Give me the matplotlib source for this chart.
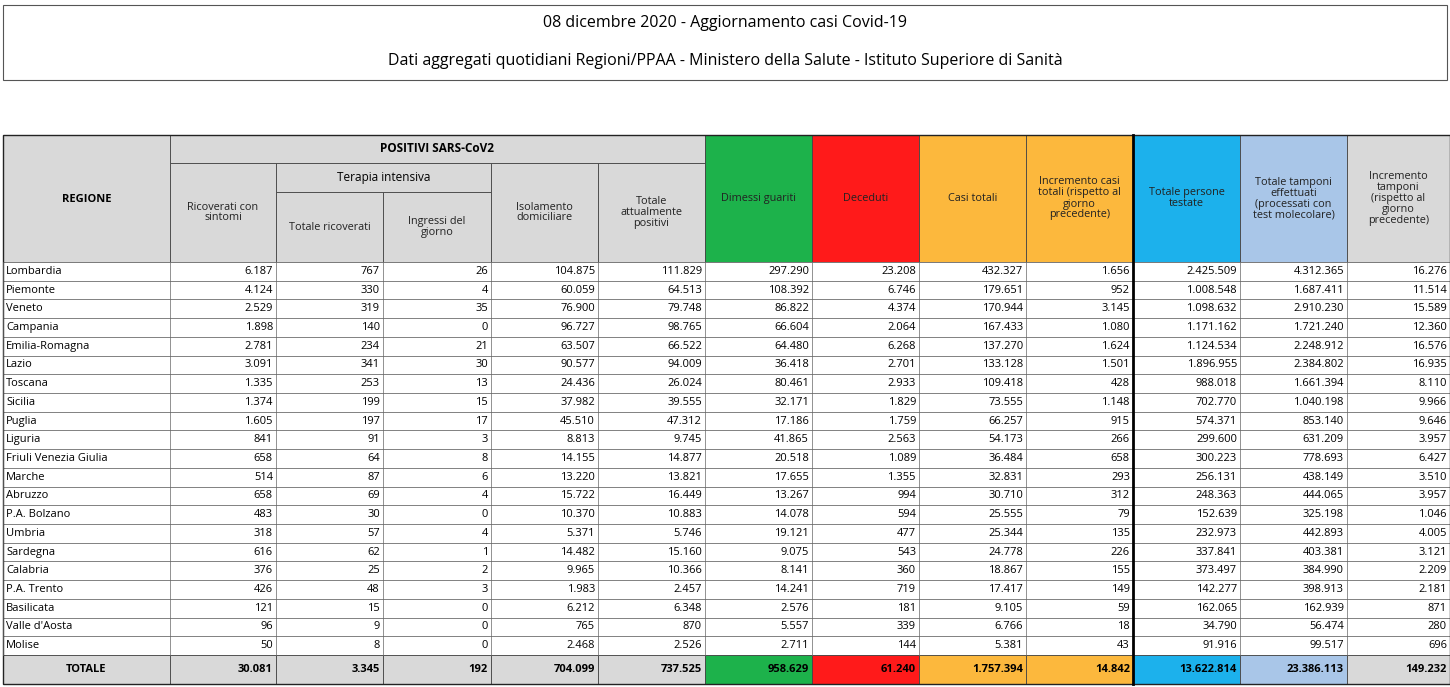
import matplotlib
matplotlib.use("Agg")
import matplotlib.pyplot as plt
from matplotlib.patches import Rectangle

regions = ["Lombardia","Piemonte","Veneto","Campania","Emilia-Romagna","Lazio","Toscana","Sicilia","Puglia","Liguria","Friuli Venezia Giulia","Marche","Abruzzo","P.A. Bolzano","Umbria","Sardegna","Calabria","P.A. Trento","Basilicata","Valle d'Aosta","Molise"]
ricoverati = ["6.187","4.124","2.529","1.898","2.781","3.091","1.335","1.374","1.605","841","658","514","658","483","318","616","376","426","121","96","50"]
ti_totale = ["767","330","319","140","234","341","253","199","197","91","64","87","69","30","57","62","25","48","15","9","8"]
ti_ingressi = ["26","4","35","0","21","30","13","15","17","3","8","6","4","0","4","1","2","3","0","0","0"]
isolamento = ["104.875","60.059","76.900","96.727","63.507","90.577","24.436","37.982","45.510","8.813","14.155","13.220","15.722","10.370","5.371","14.482","9.965","1.983","6.212","765","2.468"]
tot_positivi = ["111.829","64.513","79.748","98.765","66.522","94.009","26.024","39.555","47.312","9.745","14.877","13.821","16.449","10.883","5.746","15.160","10.366","2.457","6.348","870","2.526"]
dimessi = ["297.290","108.392","86.822","66.604","64.480","36.418","80.461","32.171","17.186","41.865","20.518","17.655","13.267","14.078","19.121","9.075","8.141","14.241","2.576","5.557","2.711"]
deceduti = ["23.208","6.746","4.374","2.064","6.268","2.701","2.933","1.829","1.759","2.563","1.089","1.355","994","594","477","543","360","719","181","339","144"]
casi_totali = ["432.327","179.651","170.944","167.433","137.270","133.128","109.418","73.555","66.257","54.173","36.484","32.831","30.710","25.555","25.344","24.778","18.867","17.417","9.105","6.766","5.381"]
incr_casi = ["1.656","952","3.145","1.080","1.624","1.501","428","1.148","915","266","658","293","312","79","135","226","155","149","59","18","43"]
persone_testate = ["2.425.509","1.008.548","1.098.632","1.171.162","1.124.534","1.896.955","988.018","702.770","574.371","299.600","300.223","256.131","248.363","152.639","232.973","337.841","373.497","142.277","162.065","34.790","91.916"]
tamponi = ["4.312.365","1.687.411","2.910.230","1.721.240","2.248.912","2.384.802","1.661.394","1.040.198","853.140","631.209","778.693","438.149","444.065","325.198","442.893","403.381","384.990","398.913","162.939","56.474","99.517"]
incr_tamponi = ["16.276","11.514","15.589","12.360","16.576","16.935","8.110","9.966","9.646","3.957","6.427","3.510","3.957","1.046","4.005","3.121","2.209","2.181","871","280","696"]
totale_row = ["TOTALE","30.081","3.345","192","704.099","737.525","958.629","61.240","1.757.394","14.842","13.622.814","23.386.113","149.232"]

headers = ["Ricoverati con\nsintomi","Totale ricoverati","Ingressi del\ngiorno","Isolamento\ndomiciliare","Totale\nattualmente\npositivi","Dimessi guariti","Deceduti","Casi totali","Incremento casi\ntotali (rispetto al\ngiorno\nprecedente)","Totale persone\ntestate","Totale tamponi\neffettuati\n(processati con\ntest molecolare)","Incremento\ntamponi\n(rispetto al\ngiorno\nprecedente)"]

cols_data = [ricoverati, ti_totale, ti_ingressi, isolamento, tot_positivi, dimessi, deceduti, casi_totali, incr_casi, persone_testate, tamponi, incr_tamponi]

W, H = 1450, 687
fig = plt.figure(figsize=(W/100, H/100), dpi=100)
ax = fig.add_axes([0, 0, 1, 1])
ax.set_xlim(0, W); ax.set_ylim(H, 0); ax.axis("off")

FONT = "Open Sans"
# title box
ax.add_patch(Rectangle((3, 5), 1444, 75, fill=False, ec="#555555", lw=0.8))
ax.text(725, 23, "08 dicembre 2020 - Aggiornamento casi Covid-19", ha="center", va="center", fontsize=11.5, family=FONT)
ax.text(725, 61, "Dati aggregati quotidiani Regioni/PPAA - Ministero della Salute - Istituto Superiore di Sanità", ha="center", va="center", fontsize=11.5, family=FONT)

xs = [3, 170, 276, 383, 491, 598, 705, 812, 919, 1026, 1133, 1240, 1347, 1450]
y0, y1, y2, y3 = 135, 163, 192, 262
ytot = 655; ybot = 684
rh = (ytot - y3) / len(regions)

gray = "#d9d9d9"
col_colors = {5: "#1db24b", 6: "#ff1a1a", 7: "#fcb83d", 8: "#fcb83d", 9: "#1cb1ec", 10: "#a9c6e8", 11: gray}
# header backgrounds
ax.add_patch(Rectangle((xs[0], y0), xs[1]-xs[0], y3-y0, fc=gray, ec="#444", lw=0.6))
ax.add_patch(Rectangle((xs[1], y0), xs[6]-xs[1], y1-y0, fc=gray, ec="#444", lw=0.6))
ax.add_patch(Rectangle((xs[2], y1), xs[4]-xs[2], y2-y1, fc=gray, ec="#444", lw=0.6))
for i in range(12):
    top = y1 if i in (0, 3, 4) else (y2 if i in (1, 2) else y0)
    c = col_colors.get(i, gray)
    ax.add_patch(Rectangle((xs[i+1], top), xs[i+2]-xs[i+1], y3-top, fc=c, ec="#444", lw=0.6))
    ax.text((xs[i+1]+xs[i+2])/2, (top+y3)/2, headers[i], ha="center", va="center", fontsize=7.8, family=FONT, linespacing=1.0, color="#222")
ax.text((xs[0]+xs[1])/2, 199, "REGIONE", ha="center", va="center", fontsize=8, weight="bold", family=FONT)
ax.text((xs[1]+xs[6])/2, 149, "POSITIVI SARS-CoV2", ha="center", va="center", fontsize=8.5, weight="bold", family=FONT)
ax.text((xs[2]+xs[4])/2, 177.5, "Terapia intensiva", ha="center", va="center", fontsize=8.5, family=FONT)

# data rows
for r, reg in enumerate(regions):
    yt = y3 + r*rh
    ax.add_patch(Rectangle((xs[0], yt), xs[-1]-xs[0], rh, fc="white", ec="#666", lw=0.5))
    yc = yt + rh/2
    ax.text(xs[0]+3, yc, reg, ha="left", va="center", fontsize=8, family=FONT)
    for i, col in enumerate(cols_data):
        ax.text(xs[i+2]-3, yc, col[r], ha="right", va="center", fontsize=8, family=FONT)
for x in xs:
    ax.plot([x, x], [y3, ytot], color="#666", lw=0.5)

# total row
tot_colors = [gray]*6 + ["#1db24b", "#ff1a1a", "#fcb83d", "#fcb83d", "#1cb1ec", "#a9c6e8", gray]
for i, v in enumerate(totale_row):
    ax.add_patch(Rectangle((xs[i], ytot), xs[i+1]-xs[i], ybot-ytot, fc=tot_colors[i], ec="#444", lw=0.6))
    if i == 0:
        ax.text((xs[0]+xs[1])/2, (ytot+ybot)/2, v, ha="center", va="center", fontsize=8, weight="bold", family=FONT)
    else:
        ax.text(xs[i+1]-3, (ytot+ybot)/2, v, ha="right", va="center", fontsize=8, weight="bold", family=FONT)

ax.plot([xs[10], xs[10]], [y0, ybot], color="black", lw=2)
ax.add_patch(Rectangle((xs[0], y0), xs[-1]-xs[0], ybot-y0, fill=False, ec="#222", lw=1))

fig.savefig("out.png", dpi=100)
